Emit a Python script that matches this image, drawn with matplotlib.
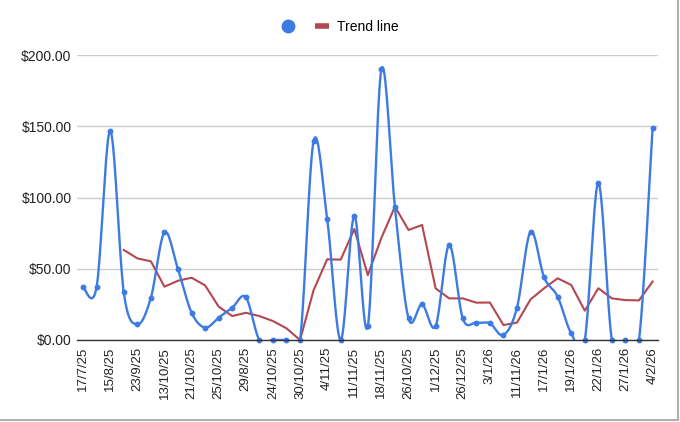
import numpy as np
import matplotlib
matplotlib.use("Agg")
import matplotlib.pyplot as plt
from matplotlib.lines import Line2D

plt.rcParams["font.family"] = ["Liberation Sans", "DejaVu Sans"]

# One value per date, only every other date gets a label on the axis
tick_labels = [
    "17/7/25", "15/8/25", "23/9/25", "13/10/25", "21/10/25", "25/10/25",
    "29/8/25", "24/10/25", "30/10/25", "4/11/25", "11/11/25", "18/11/25",
    "26/10/25", "1/12/25", "26/12/25", "3/1/26", "11/11/26", "17/1/26",
    "19/1/26", "22/1/26", "27/1/26", "4/2/26",
]
amounts = [
    37.0, 37.5, 146.7, 33.4, 11.0, 29.7, 75.5, 49.6, 19.2, 8.7, 15.7,
    22.7, 30.0, 0.0, 0.0, 0.0, 0.0, 139.6, 85.0, 0.0, 87.0, 9.8,
    190.0, 93.0, 15.2, 25.0, 9.8, 66.7, 15.2, 12.2, 11.7, 3.5, 22.7,
    76.0, 44.0, 30.4, 4.7, 0.0, 110.0, 0.0, 0.0, 0.0, 149.0,
]
# trend line (starts at the 4th point)
trend = [
    63.2, 57.3, 55.2, 37.4, 41.6, 43.7, 38.3, 23.4, 16.8, 19.1, 16.8,
    13.3, 8.2, 0.0, 35.0, 56.6, 56.4, 77.9, 45.5, 71.7, 93.6, 77.2,
    80.7, 36.2, 29.2, 29.2, 26.2, 26.3, 10.5, 12.2, 28.5, 36.3, 43.3,
    38.6, 20.6, 36.3, 29.2, 28.0, 27.8, 41.0,
]

blue = "#3d7be3"
red = "#b5474f"


def catmull_rom(xs, ys, steps=20):
    # smooth curve through every point, like the sheets "smooth" option
    xs = np.asarray(xs, float)
    ys = np.asarray(ys, float)
    px = np.concatenate([[xs[0]], xs, [xs[-1]]])
    py = np.concatenate([[ys[0]], ys, [ys[-1]]])
    out_x, out_y = [], []
    t = np.linspace(0, 1, steps, endpoint=False)
    for i in range(1, len(px) - 2):
        for p, out in ((px, out_x), (py, out_y)):
            p0, p1, p2, p3 = p[i - 1], p[i], p[i + 1], p[i + 2]
            out.extend(
                0.5 * ((2 * p1) + (-p0 + p2) * t
                       + (2 * p0 - 5 * p1 + 4 * p2 - p3) * t ** 2
                       + (-p0 + 3 * p1 - 3 * p2 + p3) * t ** 3)
            )
    out_x.append(xs[-1])
    out_y.append(ys[-1])
    return np.array(out_x), np.array(out_y)


x = np.arange(len(amounts))
fig = plt.figure(figsize=(6.8, 4.22), dpi=100)
ax = fig.add_axes([77 / 680, 82 / 422, 581 / 680, 285 / 422])

sx, sy = catmull_rom(x, amounts)
ax.plot(sx, sy, color=blue, lw=1.7, zorder=3)
ax.plot(x, amounts, "o", color=blue, ms=3.2, zorder=4, clip_on=False)
ax.plot(x[3:], trend, color=red, lw=1.5, zorder=2)

ax.set_ylim(0, 200)
ax.set_xlim(-0.45, 42.4)
ax.set_yticks([0, 50, 100, 150, 200])
ax.set_yticklabels(["${:.2f}".format(v) for v in [0, 50, 100, 150, 200]])
ax.set_xticks(x[::2])
ax.set_xticklabels(tick_labels, rotation=90)
ax.tick_params(length=0, labelsize=10, colors="#222222", pad=4)
ax.tick_params(axis="x", labelsize=9.5, pad=5)
ax.grid(axis="y", color="#cccccc", lw=1)
ax.set_axisbelow(True)
for side in ["top", "right", "left"]:
    ax.spines[side].set_visible(False)
ax.spines["bottom"].set_color("#333333")
ax.spines["bottom"].set_linewidth(1)
ax.spines["bottom"].set_zorder(5)

handles = [
    Line2D([], [], marker="o", ls="", ms=9, color=blue),
    Line2D([], [], color=red, lw=4, solid_capstyle="butt"),
]
fig.legend(handles, ["", "Trend line"], loc="center", ncol=2,
           bbox_to_anchor=(340 / 680, 1 - 27 / 422), frameon=False,
           fontsize=10, handlelength=1.0, handletextpad=0.6,
           columnspacing=0.8)

# grey frame on the right and bottom like the screenshot
fig.add_artist(Line2D([0.997, 0.997], [0.004, 1], color="#b0b0b0", lw=1.5))
fig.add_artist(Line2D([0, 0.997], [0.004, 0.004], color="#b0b0b0", lw=1.5))

fig.savefig("out.png", dpi=100)
